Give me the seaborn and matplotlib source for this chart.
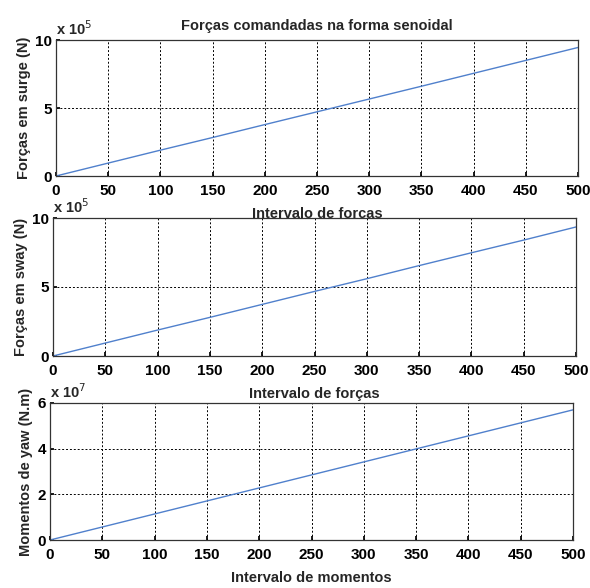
import matplotlib
matplotlib.use("Agg")
import matplotlib.pyplot as plt
import seaborn as sns
import numpy as np
import pandas as pd
from matplotlib.ticker import FuncFormatter

sns.set_theme(style="white")
plt.rcParams['font.family'] = ['Liberation Sans', 'DejaVu Sans']

intervalo = [0, 50, 100, 150, 200, 250, 300, 350, 400, 450, 500]
surge = [0, 0.95e5, 1.9e5, 2.83e5, 3.78e5, 4.72e5, 5.66e5, 6.6e5, 7.55e5, 8.5e5, 9.45e5]
sway = [0, 0.94e5, 1.88e5, 2.8e5, 3.74e5, 4.68e5, 5.6e5, 6.55e5, 7.48e5, 8.4e5, 9.35e5]
yaw = [0, 0.57e7, 1.14e7, 1.71e7, 2.28e7, 2.85e7, 3.42e7, 3.99e7, 4.56e7, 5.13e7, 5.7e7]

title = "Forças comandadas na forma senoidal"
ylabels = ["Forças em surge (N)", "Forças em sway (N)", "Momentos de yaw (N.m)"]
xlabels = ["Intervalo de forças", "Intervalo de forças", "Intervalo de momentos"]
yticks = [[0, 5e5, 10e5], [0, 5e5, 10e5], [0, 2e7, 4e7, 6e7]]
ylims = [(0, 10e5), (0, 10e5), (0, 6e7)]
scales = [1e5, 1e5, 1e7]
exps = ["5", "5", "7"]
xticks = [0, 50, 100, 150, 200, 250, 300, 350, 400, 450, 500]

fig = plt.figure(figsize=(5.9, 5.88), dpi=100)
W, H = 590, 588
# left, top, right, bottom in pixels
boxes = [(56, 40, 578, 176), (53, 218, 576, 356), (50, 403, 573, 540)]
series = [surge, sway, yaw]

for i, (l, t, r, b) in enumerate(boxes):
    ax = fig.add_axes([l / W, 1 - b / H, (r - l) / W, (b - t) / H])
    df = pd.DataFrame({"x": intervalo, "y": series[i]})
    sns.lineplot(data=df, x="x", y="y", ax=ax, color="#5080cc", linewidth=1.0)
    ax.set_xlim(0, 500)
    ax.set_ylim(*ylims[i])
    ax.set_xticks(xticks)
    ax.set_yticks(yticks[i])
    s = scales[i]
    ax.yaxis.set_major_formatter(FuncFormatter(lambda v, p, s=s: f"{v / s:g}"))
    ax.grid(True, color="black", linestyle=(0, (2, 2)), linewidth=0.7)
    for sp in ax.spines.values():
        sp.set_color("#333333")
        sp.set_linewidth(0.9)
    ax.tick_params(axis="x", pad=6)
    ax.tick_params(axis="y", pad=3)
    ax.tick_params(axis="both", labelsize=11, length=3, direction="in",
                   colors="black", bottom=True, left=True)
    for lab in ax.get_xticklabels() + ax.get_yticklabels():
        lab.set_fontweight("bold")
    ax.set_xlabel(xlabels[i], fontsize=10.5, fontweight="bold", labelpad=6)
    ax.set_ylabel(ylabels[i], fontsize=10.5, fontweight="bold", labelpad=3)
    ax.text(0.0, 1.015, "x 10$^{" + exps[i] + "}$", transform=ax.transAxes,
            fontsize=10.5, fontweight="bold", ha="left", va="bottom")
    if i == 0:
        ax.set_title(title, fontsize=10.5, fontweight="bold", pad=7)

fig.savefig("out.png", dpi=100)
